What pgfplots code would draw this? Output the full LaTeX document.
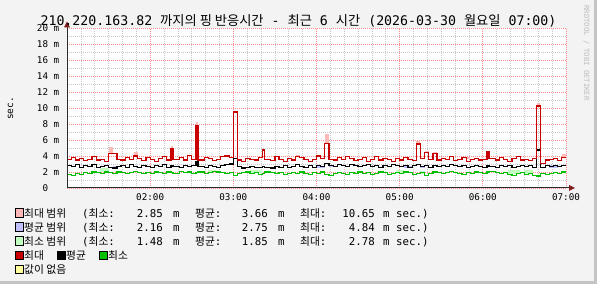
\documentclass[border=0pt]{standalone}
\usepackage{fontspec}
\setmainfont{DejaVu Sans Mono}
\newfontfamily\mono{DejaVu Sans Mono}
\newfontfamily\kr{Noto Sans CJK KR}
\usepackage{pgfplots}
\usepackage{pgfplotstable}
\pgfplotsset{compat=1.18}
\definecolor{bgc}{HTML}{F3F3F3}
\definecolor{rmax}{HTML}{FFB8B8}
\definecolor{ravg}{HTML}{C0C0FF}
\definecolor{rmin}{HTML}{C0FFC0}
\definecolor{lmax}{HTML}{C80000}
\definecolor{lmin}{HTML}{00C000}
\definecolor{nov}{HTML}{FFFFA0}
\definecolor{axc}{HTML}{2C2C2C}
\definecolor{arrc}{HTML}{7F1F1F}
\definecolor{mgrid}{HTML}{FF8C8C}
\definecolor{ngrid}{HTML}{C8C8C8}
\definecolor{shb}{HTML}{C4C4C4}
\definecolor{wm}{HTML}{BDBDBD}

\pgfplotstableread{
t max avg min
0 3.6 2.8 1.7
3 3.8 2.7 1.6
6 3.5 2.9 1.8
9 3.7 2.6 1.7
12 3.4 2.8 1.9
15 3.6 2.7 1.8
18 3.9 2.9 2.0
21 3.5 2.6 1.9
24 3.6 2.7 1.8
27 3.3 2.8 2.0
30 4.3 2.6 1.9
33 4.3 2.5 1.8
36 3.6 2.7 2.0
39 3.5 2.8 1.9
42 3.8 2.6 1.8
45 3.6 2.9 1.9
48 4.0 2.7 2.1
51 3.7 2.6 1.9
54 3.4 2.8 1.8
57 3.8 2.7 1.9
60 3.6 2.6 1.8
63 3.3 2.8 2.0
66 3.7 2.7 1.9
69 3.9 2.9 1.8
72 3.5 2.6 2.0
75 4.9 2.8 1.9
76.5 3.6 2.7 1.8
78 3.6 2.7 1.8
81 3.8 2.6 2.1
84 3.5 2.8 1.9
87 4.1 2.7 2.0
90 3.6 2.8 1.8
93 7.75 3.3 1.9
94.5 3.5 2.7 2.0
96 3.5 2.7 2.0
99 3.8 2.6 1.8
102 3.7 2.8 1.9
105 3.4 2.7 2.1
108 3.6 2.6 2.0
111 3.9 2.8 1.9
114 4.0 2.9 1.8
117 3.8 3.0 1.9
120 9.5 3.7 1.6
123 3.5 2.7 1.8
126 3.3 2.5 1.9
129 3.7 2.6 2.0
132 3.6 2.7 1.8
135 3.5 2.6 1.9
138 3.8 2.6 1.7
141 4.75 2.7 1.8
142.5 3.6 2.6 2.0
144 3.6 2.6 2.0
147 3.4 2.5 1.9
150 3.9 2.7 1.8
153 3.6 2.6 1.9
156 3.3 2.8 1.7
159 3.7 2.6 1.8
162 3.5 2.7 1.9
165 3.9 2.9 1.8
168 3.8 2.7 2.0
171 3.6 2.6 1.8
174 3.3 2.8 1.7
177 3.6 2.6 1.9
180 4.0 2.8 1.8
183 3.7 2.7 2.0
186 5.6 3.1 1.7
189 3.6 2.8 1.6
192 3.5 2.7 1.8
195 3.8 2.9 1.9
198 3.6 2.8 1.8
201 3.9 2.7 1.7
204 3.7 2.9 1.9
207 3.4 2.8 1.8
210 3.6 2.7 2.0
213 3.8 2.8 1.8
216 3.3 2.9 1.9
219 3.6 2.7 1.7
222 3.9 2.8 1.8
225 3.5 2.6 2.0
228 3.7 2.8 1.9
231 3.6 2.7 1.7
234 3.3 2.9 1.8
237 3.7 2.8 1.9
240 3.5 2.7 1.8
243 3.8 2.8 2.0
246 3.6 2.6 1.9
249 3.4 2.8 1.7
252 5.5 2.9 1.8
255 3.7 2.7 1.9
258 4.4 2.8 1.6
261 3.6 2.6 1.8
264 4.3 2.8 2.0
267 3.5 2.7 1.9
270 3.7 2.8 1.8
273 3.6 2.7 1.9
276 3.9 2.9 2.1
279 3.4 2.8 1.9
282 3.6 2.7 1.8
285 3.8 2.8 1.7
288 3.3 2.6 1.9
291 3.6 2.7 1.8
294 3.7 2.8 2.0
297 3.5 2.7 1.9
300 3.6 2.6 1.8
303 4.5 2.8 2.0
304.5 3.7 2.7 2.1
306 3.7 2.7 2.1
309 3.5 2.6 1.9
312 3.8 2.8 1.8
315 3.6 2.7 1.9
318 3.3 2.8 1.7
321 3.7 2.6 1.6
324 3.9 2.7 1.8
327 3.5 2.8 1.9
330 3.6 2.7 1.7
333 3.4 2.8 1.8
336 3.7 2.6 1.6
339 10.25 4.75 1.5
341.5 3.1 2.6 1.8
342 3.1 2.6 1.8
345 3.5 2.8 1.7
348 3.6 2.7 1.8
351 3.7 2.8 1.9
354 3.4 2.7 1.8
357 3.8 2.8 2.0
360 3.8 2.8 2.0
}\data

\newcommand{\rng}[5]{\addplot[fill=#1,draw=none,forget plot] coordinates {(#2,#4) (#2,#5) (#3,#5) (#3,#4)};}
\newcommand{\lf}{\fontsize{10.8}{12}\selectfont}
\newcommand{\tkf}{\fontsize{9.3}{10}\selectfont}

\begin{document}
\begin{tikzpicture}
\useasboundingbox (0,0) rectangle (597bp,284bp);
\fill[bgc] (0,0) rectangle (597bp,284bp);
\fill[shb] (594bp,0) rectangle (597bp,284bp);
\fill[shb] (0,0) rectangle (597bp,3bp);

\begin{axis}[
  at={(67bp,96bp)}, anchor=south west,
  scale only axis, width=499bp, height=160bp,
  xmin=0, xmax=360, ymin=0, ymax=20,
  axis background/.style={fill=white},
  axis line style={draw=none},
  major tick length=0pt, minor tick length=0pt,
  xtick={0,60,...,360},
  xticklabels={,02:00,03:00,04:00,05:00,06:00,07:00},
  minor xtick={10,20,30,40,50,70,80,90,100,110,130,140,150,160,170,190,200,210,220,230,250,260,270,280,290,310,320,330,340,350},
  ytick={0,2,...,20},
  yticklabels={0\hphantom{\ m},2 m,4 m,6 m,8 m,10 m,12 m,14 m,16 m,18 m,20 m},
  minor ytick={1,3,...,19},
  grid=both,
  major grid style={draw=mgrid, dash pattern=on 1bp off 1bp, line width=0.7bp},
  minor grid style={draw=ngrid, dash pattern=on 1bp off 1bp, line width=0.7bp},
  xticklabel style={font=\tkf, anchor=north, inner sep=0pt, yshift=-5bp},
  yticklabel style={font=\tkf, anchor=east, inner sep=0pt, xshift=-7.5bp},
  clip=true,
]
% max range
\rng{rmax}{30}{33}{4.3}{5.1}
\rng{rmax}{48}{51}{4.0}{4.5}
\rng{rmax}{75}{76.5}{4.9}{5.25}
\rng{rmax}{93}{94.5}{7.75}{8.25}
\rng{rmax}{165}{168}{3.9}{4.15}
\rng{rmax}{186}{189}{5.6}{6.75}
\rng{rmax}{252}{255}{5.5}{5.9}
\rng{rmax}{258}{261}{4.4}{4.6}
\rng{rmax}{264}{267}{4.3}{4.5}
\rng{rmax}{288}{291}{3.6}{3.9}
\rng{rmax}{339}{341.5}{10.25}{10.65}
\rng{rmax}{357}{360}{3.8}{4.2}
% avg range
\rng{ravg}{33}{36}{2.45}{2.7}
\rng{ravg}{180}{186}{2.55}{2.8}
\rng{ravg}{189}{192}{2.6}{2.85}
\rng{ravg}{243}{249}{2.45}{2.7}
\rng{ravg}{255}{258}{2.5}{2.75}
\rng{ravg}{348}{354}{2.5}{2.9}
% min range
\rng{rmin}{24}{30}{1.95}{2.45}
\rng{rmin}{102}{108}{1.95}{2.3}
\rng{rmin}{132}{141}{1.85}{2.2}
\rng{rmin}{237}{243}{1.85}{2.2}
\rng{rmin}{255}{258}{1.7}{2.1}
\rng{rmin}{318}{327}{1.75}{2.3}
\rng{rmin}{330}{336}{1.75}{2.2}
% lines
\addplot[const plot, lmin, line width=1.2bp, mark=none] table[x=t, y=min] {\data};
\addplot[const plot, black, line width=1.2bp, mark=none] table[x=t, y=avg] {\data};
\addplot[const plot, lmax, line width=1.2bp, mark=none] table[x=t, y=max] {\data};
\end{axis}

\begin{scope}[x=1bp, y=-1bp, yshift=284bp]
  % axes and arrows
  \draw[axc, line width=1bp] (67,188) -- (570,188);
  \draw[axc, line width=1bp] (67,188) -- (67,26);
  \fill[arrc] (575,188) -- (569,185) -- (569,191) -- cycle;
  \fill[arrc] (67,21.5) -- (64,27.5) -- (70,27.5) -- cycle;
  % title
  \node[anchor=base, inner sep=0pt, font=\fontsize{13.3}{14}\selectfont] at (298.5,26)
    {210.220.163.82 {\kr 까지의 핑 반응시간} - {\kr 최근} 6 {\kr 시간} (2026-03-30 {\kr 월요일} 07:00)};
  % y label
  \node[rotate=90, inner sep=0pt, font=\fontsize{9.5}{10}\selectfont] at (10.5,108.5) {sec.};
  % watermark
  \node[rotate=-90, inner sep=0pt, text=wm, font=\fontsize{7.2}{8}\selectfont] at (586.5,53) {RRDTOOL / TOBI OETIKER};
  % legend
  \foreach \yy/\cc in {217.5/rmax,231.5/ravg,245.5/rmin,260/lmax,274/nov} {
    \filldraw[fill=\cc, draw=black, line width=0.8bp] (15.5,\yy-8.7) rectangle (23.5,\yy-0.3);
  }
  \filldraw[fill=black, draw=black, line width=0.8bp] (57.5,251.3) rectangle (65.5,259.7);
  \filldraw[fill=lmin, draw=black, line width=0.8bp] (99.5,251.3) rectangle (107.5,259.7);
  \begin{scope}[every node/.style={anchor=base west, inner sep=0pt, font=\lf}]
    \node at (24,217.5) {\kr 최대 범위};
    \node at (24,231.5) {\kr 평균 범위};
    \node at (24,245.5) {\kr 최소 범위};
    \foreach \yy in {217.5,231.5,245.5} {
      \node at (82,\yy) {({\kr 최소}:};
      \node at (173,\yy) {m};
      \node at (195,\yy) {{\kr 평균}:};
      \node at (278,\yy) {m};
      \node at (300,\yy) {{\kr 최대}:};
      \node at (383,\yy) {m sec.)};
    }
    \node at (24,260) {\kr 최대};
    \node at (66,260) {\kr 평균};
    \node at (108,260) {\kr 최소};
    \node at (24,274) {\kr 값이 없음};
  \end{scope}
  \begin{scope}[every node/.style={anchor=base east, inner sep=0pt, font=\lf}]
    \node at (163,217.5) {2.85};
    \node at (268,217.5) {3.66};
    \node at (375,217.5) {10.65};
    \node at (163,231.5) {2.16};
    \node at (268,231.5) {2.75};
    \node at (375,231.5) {4.84};
    \node at (163,245.5) {1.48};
    \node at (268,245.5) {1.85};
    \node at (375,245.5) {2.78};
  \end{scope}
\end{scope}
\end{tikzpicture}
\end{document}
